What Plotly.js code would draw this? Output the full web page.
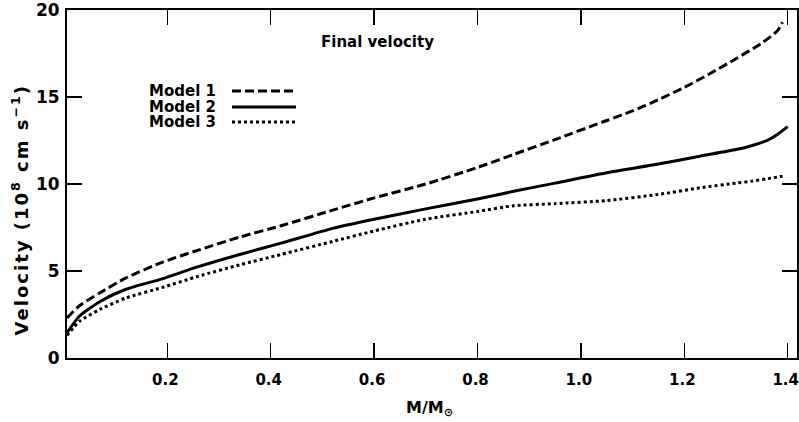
<!DOCTYPE html>
<html>
<head>
<meta charset="utf-8">
<script src="https://cdn.plot.ly/plotly-3.0.1.min.js"></script>
<style>
  html, body { margin: 0; padding: 0; background: #fff; }
  #chart { width: 799px; height: 422px; }
  g.annotation[data-index="1"] text { letter-spacing: 2px; }
</style>
</head>
<body>
<div id="chart"></div>
<script>
// Mass coordinate M/Msun
const massModel1 = [0.006, 0.03, 0.07, 0.12, 0.19, 0.26, 0.34, 0.42, 0.52, 0.60, 0.70, 0.80, 0.87, 0.95, 1.05, 1.10, 1.15, 1.20, 1.25, 1.30, 1.35, 1.38, 1.39];
const velModel1  = [2.3, 3.0, 3.75, 4.6, 5.5, 6.2, 6.95, 7.6, 8.5, 9.2, 10.0, 10.95, 11.7, 12.55, 13.65, 14.2, 14.85, 15.55, 16.35, 17.2, 18.1, 18.8, 19.3];

const massModel2 = [0.006, 0.03, 0.07, 0.12, 0.19, 0.26, 0.34, 0.42, 0.52, 0.60, 0.70, 0.80, 0.87, 0.95, 1.05, 1.15, 1.23, 1.30, 1.33, 1.36, 1.38, 1.40];
const velModel2  = [1.45, 2.4, 3.25, 3.95, 4.55, 5.25, 5.95, 6.6, 7.45, 7.97, 8.57, 9.14, 9.58, 10.05, 10.65, 11.15, 11.6, 11.98, 12.2, 12.5, 12.85, 13.3];

const massModel3 = [0.006, 0.03, 0.07, 0.12, 0.19, 0.26, 0.34, 0.42, 0.52, 0.60, 0.70, 0.80, 0.87, 0.95, 1.05, 1.15, 1.23, 1.30, 1.33, 1.36, 1.39];
const velModel3  = [1.3, 2.1, 2.8, 3.45, 4.05, 4.7, 5.35, 5.95, 6.7, 7.3, 7.98, 8.42, 8.75, 8.87, 9.05, 9.4, 9.78, 10.05, 10.16, 10.3, 10.45];

const xTickVals = [0.2, 0.4, 0.6, 0.8, 1.0, 1.2, 1.4];
const xTickText = ["0.2", "0.4", "0.6", "0.8", "1.0", "1.2", "1.4"];
const yTickVals = [0, 5, 10, 15, 20];
const yTickText = ["0", "5", "10", "15", "20"];

const seriesNames = ["Model 1", "Model 2", "Model 3"];
const chartTitle = "Final velocity";

const FONT = "DejaVu Sans";
const dash1 = "9px,4px";
const dash3 = "3px,3px";

const traces = [
  { x: massModel1, y: velModel1, name: seriesNames[0], mode: "lines",
    line: { color: "#000", width: 3, dash: dash1, shape: "spline", smoothing: 0.6 } },
  { x: massModel2, y: velModel2, name: seriesNames[1], mode: "lines",
    line: { color: "#000", width: 3, dash: "solid", shape: "spline", smoothing: 0.6 } },
  { x: massModel3, y: velModel3, name: seriesNames[2], mode: "lines",
    line: { color: "#000", width: 3, dash: dash3, shape: "spline", smoothing: 0.6 } }
];

const axisCommon = {
  showline: true, linecolor: "#000", linewidth: 2, mirror: "ticks",
  ticks: "inside", ticklen: 15, tickwidth: 1.5, tickcolor: "#000",
  showgrid: false, zeroline: false, ticklabeloverflow: "allow"
};

const legendY = [0.767, 0.721, 0.678];
const legendDash = [dash1, "solid", dash3];

const annotations = [
  { text: chartTitle, xref: "paper", yref: "paper", x: 0.426, y: 0.908,
    xanchor: "center", yanchor: "middle", showarrow: false,
    font: { family: FONT, size: 15, color: "#000", weight: "bold" } },
  { text: "Velocity (10<sup>8</sup> cm s<sup>−1</sup>)", xref: "paper", yref: "paper",
    x: -0.064, y: 0.425, xanchor: "center", yanchor: "middle", textangle: -90, showarrow: false,
    font: { family: FONT, size: 18, color: "#000", weight: "bold" } },
  { text: "M/M<sub>⊙</sub>", xref: "paper", yref: "paper", x: 0.497, y: -0.144,
    xanchor: "center", yanchor: "middle", showarrow: false,
    font: { family: FONT, size: 16, color: "#000", weight: "bold" } }
];
const shapes = [];
seriesNames.forEach((n, i) => {
  annotations.push({ text: n, xref: "paper", yref: "paper", x: 0.1096, y: legendY[i],
    xanchor: "left", yanchor: "middle", showarrow: false,
    font: { family: FONT, size: 15, color: "#000", weight: "bold" } });
  shapes.push({ type: "line", xref: "paper", yref: "paper",
    x0: 0.226, x1: 0.3137, y0: legendY[i], y1: legendY[i],
    line: { color: "#000", width: 3, dash: legendDash[i] } });
});

const layout = {
  width: 799, height: 422,
  margin: { l: 67, r: 2, t: 10, b: 64, pad: 0 },
  paper_bgcolor: "#fff", plot_bgcolor: "#fff",
  showlegend: false,
  font: { family: FONT, color: "#000" },
  xaxis: Object.assign({}, axisCommon, {
    range: [0.006, 1.418], tickmode: "array", tickvals: xTickVals, ticktext: xTickText,
    tickfont: { family: FONT, size: 15, color: "#000", weight: "bold" },
    ticklabelstandoff: 7, ticklabelshift: -2
  }),
  yaxis: Object.assign({}, axisCommon, {
    range: [0, 20], tickmode: "array", tickvals: yTickVals, ticktext: yTickText,
    tickfont: { family: FONT, size: 17, color: "#000", weight: "bold" }, ticklabelstandoff: 2
  }),
  annotations: annotations,
  shapes: shapes
};

Plotly.newPlot("chart", traces, layout, { staticPlot: true, displayModeBar: false });
</script>
</body>
</html>
